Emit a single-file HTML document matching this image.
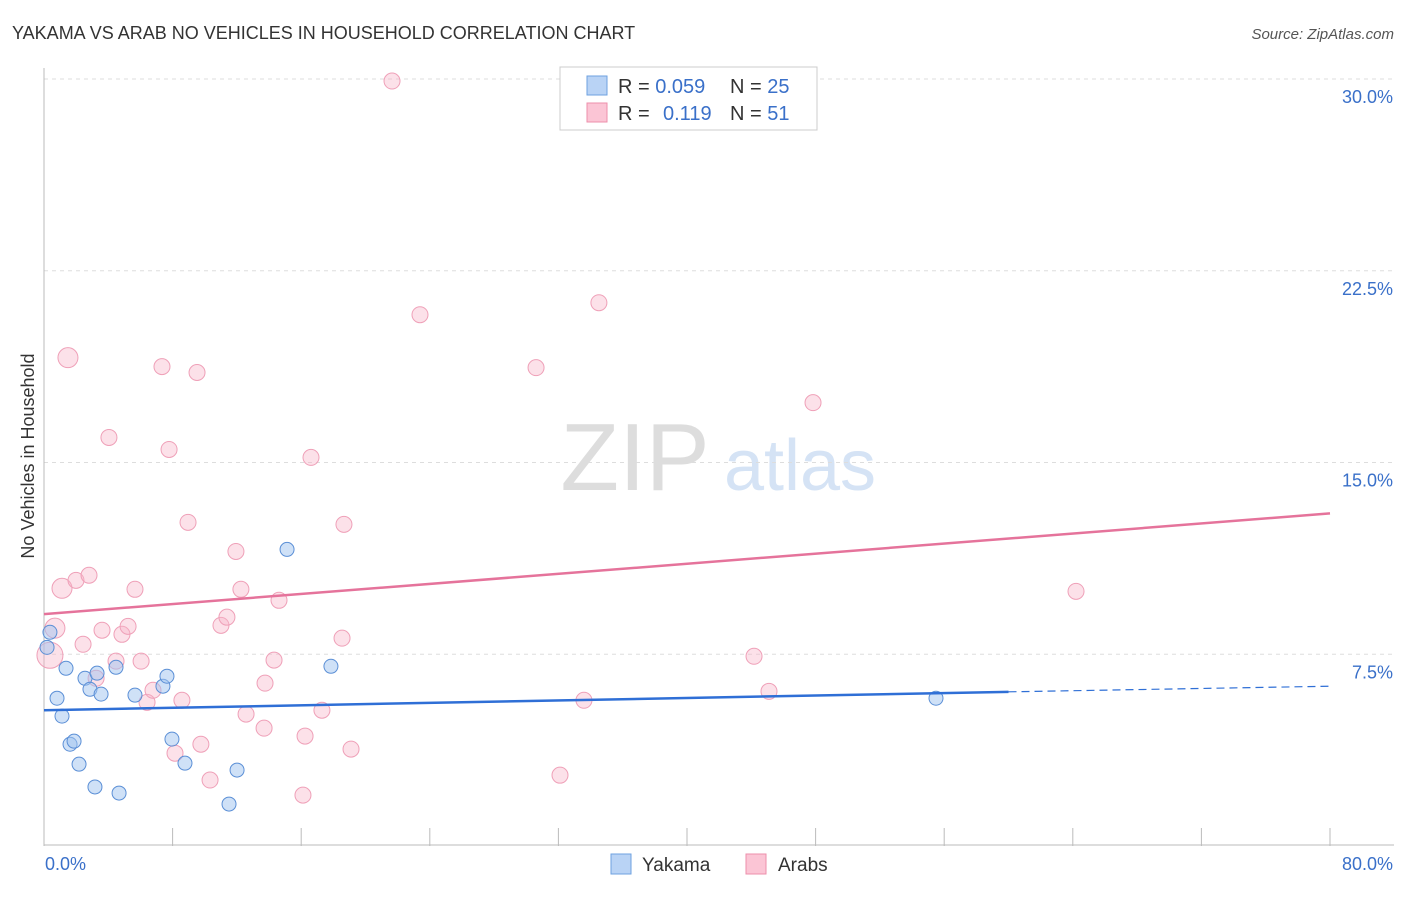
<!DOCTYPE html>
<html><head><meta charset="utf-8"><style>
body{margin:0;background:#fff;font-family:"Liberation Sans",sans-serif;}
svg text{font-family:"Liberation Sans",sans-serif;}
</style></head><body>
<svg id="c" width="1406" height="892">
<text x="12" y="39" font-size="18" fill="#333">YAKAMA VS ARAB NO VEHICLES IN HOUSEHOLD CORRELATION CHART</text>
<text x="1394" y="39" font-size="15" fill="#555" font-style="italic" text-anchor="end">Source: ZipAtlas.com</text>
<text x="34" y="456" font-size="18" fill="#333" text-anchor="middle" transform="rotate(-90 34 456)">No Vehicles in Household</text>
<g><text x="635" y="490" font-size="96" fill="#ddd" font-family="Liberation Serif" text-anchor="middle">ZIP</text><text x="800" y="490" font-size="72" fill="#d5e3f5" text-anchor="middle">atlas</text></g>
<g id="grid"></g><g id="marks"></g>
<g>
<rect x="560" y="67" width="257" height="63" fill="#fff" stroke="#ccc"/>
<rect x="587" y="76" width="20" height="19" fill="#b9d3f5" stroke="#6ea1e0"/>
<rect x="587" y="103" width="20" height="19" fill="#fbc5d5" stroke="#ee8fab"/>
<text x="618" y="93" font-size="20" fill="#333">R = <tspan fill="#3a70c9">0.059</tspan><tspan x="730">N = </tspan><tspan fill="#3a70c9">25</tspan></text>
<text x="618" y="120" font-size="20" fill="#333">R = <tspan x="663" fill="#3a70c9">0.119</tspan><tspan x="730">N = </tspan><tspan fill="#3a70c9">51</tspan></text>
</g>
<g>
<rect x="611" y="854" width="20" height="20" fill="#b9d3f5" stroke="#6ea1e0"/><text x="642" y="871" font-size="19" fill="#333">Yakama</text>
<rect x="746" y="854" width="20" height="20" fill="#fbc5d5" stroke="#ee8fab"/><text x="778" y="871" font-size="19" fill="#333">Arabs</text>
</g>
</svg>
<script>
const yTicks=[7.5,15,22.5,30];
const yTickLabels=["7.5%","15.0%","22.5%","30.0%"];
const xTickLabels=["0.0%","80.0%"];
const blueX=[0.37,0.19,0.81,1.12,1.37,1.62,1.87,2.18,2.55,2.86,3.17,3.30,3.55,4.48,4.67,5.66,7.40,7.65,7.96,8.77,11.51,12.01,15.12,17.85,55.49];
const blueY=[8.36,7.77,5.78,5.08,6.95,3.98,4.10,3.20,6.56,6.13,2.31,6.76,5.94,6.99,2.07,5.90,6.25,6.64,4.18,3.24,1.64,2.97,11.60,7.03,5.78];
const pinkX=[1.49,1.12,0.68,0.37,1.99,2.80,4.04,2.43,3.61,3.24,4.48,4.85,5.23,5.66,6.04,6.41,6.78,7.34,7.78,8.15,8.58,8.96,9.52,9.76,10.33,11.01,11.38,11.94,12.25,12.57,13.69,13.75,14.31,14.62,16.11,16.24,16.61,17.29,18.54,18.66,19.10,21.65,23.39,30.61,32.10,33.59,34.52,44.17,45.10,47.84,64.20];
const pinkY=[19.10,10.08,8.52,7.46,10.39,10.59,15.98,7.89,8.44,6.56,7.23,8.28,8.59,10.04,7.23,5.62,6.09,18.75,15.51,3.63,5.70,12.66,18.52,3.98,2.58,8.63,8.95,11.52,10.04,5.16,4.61,6.37,7.27,9.61,1.99,4.30,15.20,5.31,8.13,12.58,3.79,29.92,20.78,18.71,2.77,5.70,21.25,7.42,6.05,17.34,9.96];
const bigPink=[0,1,2,3];
const pinkTrend=[9.07,13.01], blueTrend=[5.31,6.03,6.25], blueSolidEnd=60;
const L=44,R=1330,T=79,B=846;
const X=v=>L+v/80*(R-L), Y=v=>B-v/30*(B-T);
const ns="http://www.w3.org/2000/svg";
function mk(t,a,p){const e=document.createElementNS(ns,t);for(const k in a)e.setAttribute(k,a[k]);p.appendChild(e);return e;}
const g=document.getElementById('grid'),m=document.getElementById('marks');
yTicks.forEach((t,i)=>{const l=mk('line',{x1:L,x2:1394,y1:Y(t),y2:Y(t),stroke:'#ddd','stroke-dasharray':'4,4'},g);

const tx=mk('text',{x:1393,y:Y(t)+24,'font-size':18,fill:'#3a70c9','text-anchor':'end'},g);tx.textContent=yTickLabels[i];
});
const ax=mk('line',{x1:L,x2:1394,y1:B-1,y2:B-1,stroke:'#bbb'},g);
const ay=mk('line',{x1:L,x2:L,y1:68,y2:B,stroke:'#bbb'},g);
for(let i=1;i<=10;i++){const xx=L+i*(R-L)/10;const t=mk('line',{x1:xx,x2:xx,y1:828,y2:B,stroke:'#bbb'},g);}
[[0,L+1,'start'],[80,1393,'end']].forEach((d,i)=>{const tx=mk('text',{x:d[1],y:870,'font-size':18,fill:'#3a70c9','text-anchor':d[2]},g);tx.textContent=xTickLabels[i];});
pinkX.forEach((v,i)=>{const big=bigPink.includes(i);const c=mk('circle',{cx:X(v),cy:Y(pinkY[i]),r:big?(i==3?13:10):8,fill:'rgba(248,180,200,0.4)',stroke:'#efa0b8','stroke-width':1},m);
});
blueX.forEach((v,i)=>{const c=mk('circle',{cx:X(v),cy:Y(blueY[i]),r:7,fill:'rgba(160,195,240,0.5)',stroke:'#5b8fd6','stroke-width':1},m);
});
let l1=mk('line',{x1:X(0),y1:Y(pinkTrend[0]),x2:X(80),y2:Y(pinkTrend[1]),stroke:'#e5739b','stroke-width':2.5},m);

let l2=mk('line',{x1:X(0),y1:Y(blueTrend[0]),x2:X(blueSolidEnd),y2:Y(blueTrend[1]),stroke:'#2f6fd6','stroke-width':2.5},m);

let l3=mk('line',{x1:X(blueSolidEnd),y1:Y(blueTrend[1]),x2:X(80),y2:Y(blueTrend[2]),stroke:'#2f6fd6','stroke-width':1.2,'stroke-dasharray':'8,5'},m);

</script>
</body></html>
